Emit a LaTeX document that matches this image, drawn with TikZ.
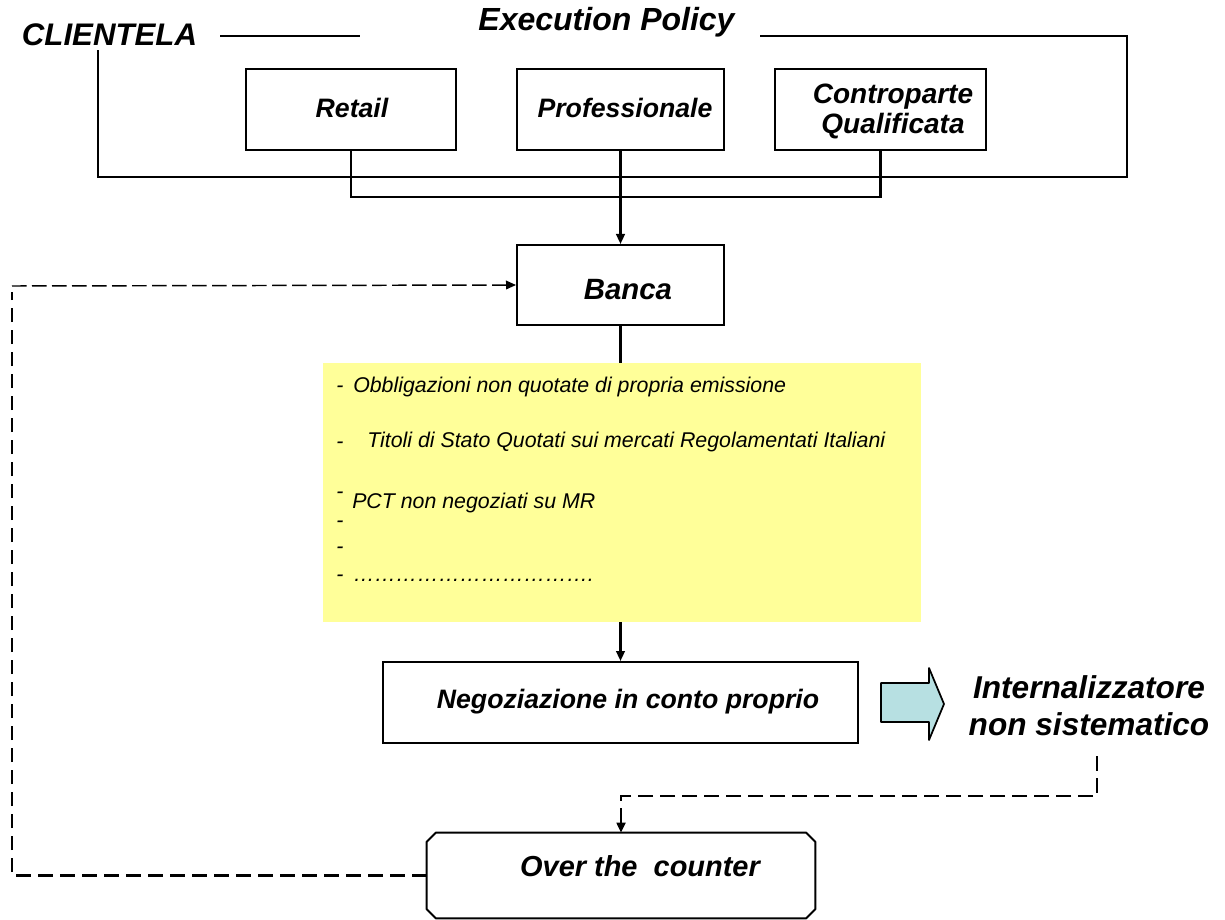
\documentclass[tikz,border=0pt]{standalone}
\usepackage{fontspec}
\setmainfont{Liberation Sans}
\usetikzlibrary{calc,arrows.meta}
\definecolor{noteyellow}{RGB}{255,255,153}
\definecolor{arrowcyan}{RGB}{183,224,226}
\newcommand\myellip{…}
\begin{document}
\begin{tikzpicture}[x=0.75pt,y=-0.75pt,
  box/.style={draw, line width=1.5pt, inner sep=0},
  lbl/.style={inner sep=0, font=\fontsize{20}{24}\selectfont\bfseries\itshape},
  note/.style={inner sep=0, anchor=base west, font=\fontsize{16}{19}\selectfont\itshape},
  conn/.style={line width=1.6pt},
  tip/.style={-{Triangle[length=7.5pt,width=6.5pt]}},
  thickdash/.style={line width=2.2pt, dash pattern=on 11pt off 5.5pt},
  thindash/.style={line width=1.1pt, dash pattern=on 11pt off 4pt}]
\useasboundingbox (0,0) rectangle (1225,920);

% titles
\node[lbl, font=\fontsize{23.4}{28}\selectfont\bfseries\itshape] (clientela) at (109.5,35) {CLIENTELA};
\node[lbl, font=\fontsize{24}{28}\selectfont\bfseries\itshape] (policy) at (606.5,22) {Execution Policy};

% outer frame
\coordinate (f1) at (220,36);
\coordinate (f2) at (360,36);
\coordinate (f3) at (760,36);
\coordinate (f4) at (98,50);
\draw[conn] (f1) -- (f2);
\draw[conn] (f3) -- (1127,36) -- (1127,177) -- (98,177) -- (f4);

% client boxes
\node[box, minimum width=157.5pt, minimum height=60.75pt] (retail) at (351,109.5) {};
\node[box, minimum width=155.25pt, minimum height=60.75pt] (prof) at (620.5,109.5) {};
\node[box, minimum width=158.25pt, minimum height=60.75pt] (contro) at (880.5,109.5) {};
\node[lbl] (tretail) at (352,108) {Retail};
\node[lbl] (tprof) at (625,108) {Professionale};
\node[lbl, align=center, font=\fontsize{21}{22.5}\selectfont\bfseries\itshape] (tcontro) at (893,111) {Controparte\\Qualificata};

% bracket
\draw[conn] (retail.south) -- (351,197) -| (contro.south);

% Banca
\node[box, minimum width=155.25pt, minimum height=60pt] (banca) at (620.5,285) {};
\node[lbl, font=\fontsize{22}{26}\selectfont\bfseries\itshape] (tbanca) at (628,290) {Banca};
\draw[conn, tip] (prof.south) -- (banca.north);

% yellow note
\node[fill=noteyellow, inner sep=0, minimum width=448.5pt, minimum height=194.25pt] (note) at (622,492.5) {};
\draw[conn] (banca.south) -- (banca.south |- note.north);
\node[note] (d1) at (336,392) {-};
\node[note] (t1) at (353,392) {Obbligazioni non quotate di propria emissione};
\node[note] (d2) at (336,448) {-};
\node[note] (t2) at (367,447) {Titoli di Stato Quotati sui mercati Regolamentati Italiani};
\node[note] (d3) at (336,498) {-};
\node[note] (t3) at (352,508) {PCT non negoziati su MR};
\node[note] (d4) at (336,527) {-};
\node[note] (d5) at (336,553) {-};
\node[note] (d6) at (336,581) {-};
\node[note] (t6) at (353,581) {\myellip\myellip\myellip\myellip\myellip\myellip\myellip\myellip\myellip\myellip\myellip.};

% Negoziazione
\node[box, minimum width=356.25pt, minimum height=60.75pt] (nego) at (620.5,702.5) {};
\node[lbl] (tnego) at (628,702) {Negoziazione in conto proprio};
\draw[conn, tip] (nego.north |- note.south) -- (nego.north);

% block arrow
\draw[line width=1.3pt, fill=arrowcyan, line join=round] (881,683) -- (929,683) -- (929,668) -- (944,704) -- (929,740) -- (929,722) -- (881,722) -- cycle;

% Internalizzatore
\node[lbl, align=center, font=\fontsize{23.7}{27.75}\selectfont\bfseries\itshape] (intern) at (1089,706) {Internalizzatore\\non sistematico};

% Over the counter (chamfered box)
\node[inner sep=0, minimum width=291pt, minimum height=63.75pt] (otc) at (621,875.5) {};
\draw[line width=1.5pt, line join=round]
  ($(otc.north west)+(9,0)$) -- ($(otc.north east)+(-9,0)$) -- ($(otc.north east)+(0,9)$)
  -- ($(otc.south east)+(0,-9)$) -- ($(otc.south east)+(-9,0)$) -- ($(otc.south west)+(9,0)$)
  -- ($(otc.south west)+(0,-9)$) -- ($(otc.north west)+(0,9)$) -- cycle;
\node[lbl, font=\fontsize{21.7}{26}\selectfont\bfseries\itshape] (totc) at (640,866) {Over the\ \ counter};

% dashed connectors
\coordinate (i0) at (1097,756);
\draw[thickdash, tip] (i0) -- (1097,796) -| (otc.north);
\coordinate (l0) at (12,292);
\coordinate (l1) at (12,286);
\draw[thickdash] (otc.west) -- (12,875.5) -- (l0);
\draw[thindash, tip] (l1) -- (banca.west);
\end{tikzpicture}
\end{document}
